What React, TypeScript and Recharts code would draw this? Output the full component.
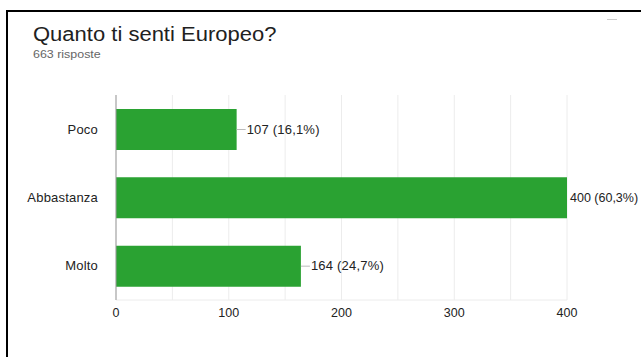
import { BarChart, Bar, XAxis, YAxis, CartesianGrid, LabelList } from 'recharts'

const categories = ['Poco', 'Abbastanza', 'Molto']
const counts = [107, 400, 164]
const percents = ['16,1%', '60,3%', '24,7%']
const xTicks = [0, 50, 100, 150, 200, 250, 300, 350, 400]

const data = categories.map((name, i) => ({ name, value: counts[i], pct: percents[i] }))

const font = '"Liberation Sans", Arial, sans-serif'

function BarLabel(props: any) {
    const { x, y, width, height, index } = props
    const ex = x + width
    const cy = y + height / 2
    const d = data[index]
    // the longest bar leaves little room, so its label sits tight to the bar
    const tight = ex > 500
    return (
        <g>
            {!tight && <line x1={ex} y1={cy} x2={ex + 9} y2={cy} stroke="#bbb" strokeWidth={1} />}
            <text
                x={tight ? ex + 3 : ex + 10}
                y={cy}
                dy={4}
                fontSize={tight ? 12.5 : 13}
                letterSpacing={tight ? 0 : 0.2}
                fill="#222"
                fontFamily={font}
            >
                {`${d.value} (${d.pct})`}
            </text>
        </g>
    )
}

export default function App() {
    return (
        <div style={{ position: 'absolute', left: 0, top: 0, width: 641, height: 357, overflow: 'hidden', background: '#fff', fontFamily: font }}>
            <div style={{ position: 'absolute', left: 6, top: 10, right: -10, bottom: -10, borderLeft: '2px solid #000', borderTop: '2px solid #000' }} />
            <div style={{ position: 'absolute', left: 607, top: 19, width: 10, height: 1, background: '#ccc' }} />
            <div style={{ position: 'absolute', left: 33, top: 23, fontSize: 20, color: '#212121', transform: 'scaleX(1.1)', transformOrigin: 'left', whiteSpace: 'nowrap' }}>
                Quanto ti senti Europeo?
            </div>
            <div style={{ position: 'absolute', left: 33, top: 48, fontSize: 11, color: '#666', transform: 'scaleX(1.13)', transformOrigin: 'left', whiteSpace: 'nowrap' }}>
                663 risposte
            </div>
            <div style={{ position: 'absolute', left: 0, top: 0 }}>
                <BarChart
                    width={641}
                    height={357}
                    data={data}
                    layout="vertical"
                    margin={{ top: 95, right: 74, bottom: 27, left: 16 }}
                    barSize={41}
                >
                    <CartesianGrid horizontal={false} stroke="#ececec" />
                    <XAxis
                        type="number"
                        domain={[0, 400]}
                        ticks={xTicks}
                        interval={0}
                        tickFormatter={(v: number) => (v % 100 === 0 ? String(v) : '')}
                        axisLine={{ stroke: '#ececec' }}
                        tickLine={false}
                        tick={{ fontSize: 12.5, fill: '#222', fontFamily: font }}
                        height={30}
                    />
                    <XAxis
                        xAxisId="top"
                        orientation="top"
                        type="number"
                        domain={[0, 400]}
                        tick={false}
                        tickLine={false}
                        axisLine={{ stroke: '#ececec' }}
                        height={0}
                    />
                    <YAxis
                        type="category"
                        dataKey="name"
                        width={100}
                        axisLine={{ stroke: '#999' }}
                        tickLine={false}
                        tickMargin={12}
                        tick={{ fontSize: 13, letterSpacing: 0.2, fill: '#222', fontFamily: font }}
                    />
                    <Bar dataKey="value" fill="#2aa232" isAnimationActive={false}>
                        <LabelList dataKey="value" content={BarLabel} />
                    </Bar>
                </BarChart>
            </div>
        </div>
    )
}
